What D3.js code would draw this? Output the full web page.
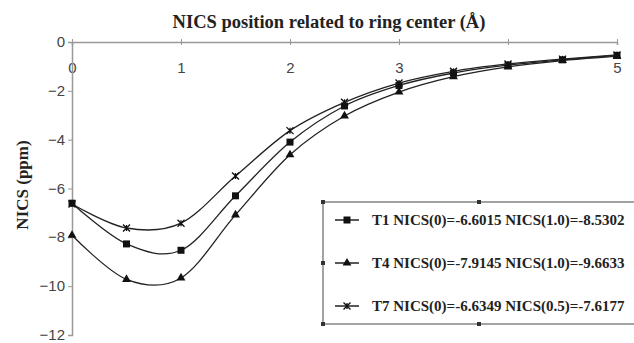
<!DOCTYPE html>
<html>
<head>
<meta charset="utf-8">
<script src="https://cdn.jsdelivr.net/npm/d3@7"></script>
<style>
  body { margin: 0; background: #fff; overflow: hidden; }
</style>
</head>
<body>
<div id="chart"></div>
<script>
// distances from ring center (Å)
var positions = [0, 0.5, 1, 1.5, 2, 2.5, 3, 3.5, 4, 4.5, 5];
var t1 = [-6.6015, -8.27, -8.5302, -6.3, -4.1, -2.62, -1.78, -1.27, -0.95, -0.73, -0.55];
var t4 = [-7.9145, -9.72, -9.6633, -7.08, -4.62, -3.03, -2.05, -1.42, -1.02, -0.76, -0.58];
var t7 = [-6.6349, -7.6177, -7.42, -5.49, -3.63, -2.47, -1.68, -1.2, -0.9, -0.7, -0.53];
var xTicks = [0, 1, 2, 3, 4, 5];
var xTickLabels = ['0', '1', '2', '3', '', '5'];
var yTicks = [0, -2, -4, -6, -8, -10, -12];
var legendLabels = [
  'T1 NICS(0)=-6.6015 NICS(1.0)=-8.5302',
  'T4 NICS(0)=-7.9145 NICS(1.0)=-9.6633',
  'T7 NICS(0)=-6.6349 NICS(0.5)=-7.6177'
];

var width = 634, height = 343;
var svg = d3.select('#chart').append('svg')
    .attr('width', width)
    .attr('height', height);

var x = d3.scaleLinear().domain([0, 5]).range([72, 617]);
var y = d3.scaleLinear().domain([0, -12]).range([42, 335]);

// title
svg.append('text')
    .attr('x', 329)
    .attr('y', 28)
    .attr('text-anchor', 'middle')
    .style('font', 'bold 18.5px "Liberation Serif", serif')
    .attr('fill', '#222')
    .text('NICS position related to ring center (Å)');

// y axis title
svg.append('text')
    .attr('transform', 'translate(28,185) rotate(-90)')
    .attr('text-anchor', 'middle')
    .style('font', 'bold 17px "Liberation Serif", serif')
    .attr('fill', '#222')
    .text('NICS (ppm)');

// x axis along the top (value 0)
var xAxis = svg.append('g')
    .attr('transform', 'translate(0,' + y(0) + ')')
    .call(d3.axisBottom(x).tickValues(xTicks).tickSize(3).tickFormat(function(d, i) { return xTickLabels[i]; }));
xAxis.select('.domain').attr('stroke', '#999').attr('stroke-width', 1.5);
xAxis.selectAll('line').attr('stroke', '#999').attr('y1', -3);
xAxis.selectAll('text')
    .attr('dy', 0)
    .attr('y', 31)
    .style('font', '15px "Liberation Sans", sans-serif')
    .attr('fill', '#444');

var yAxis = svg.append('g')
    .attr('transform', 'translate(' + x(0) + ',0)')
    .call(d3.axisLeft(y).tickValues(yTicks).tickSize(4).tickFormat(d3.format('d')));
yAxis.select('.domain').attr('stroke', '#999').attr('stroke-width', 1.5);
yAxis.selectAll('line').attr('stroke', '#999');
yAxis.selectAll('text')
    .attr('x', -7)
    .attr('dy', '0.3em')
    .style('font', '15px "Liberation Sans", sans-serif')
    .attr('fill', '#444');

var series = [
  { values: t1, marker: 'square' },
  { values: t4, marker: 'triangle' },
  { values: t7, marker: 'cross' }
];

var line = d3.line()
    .x(function(d, i) { return x(positions[i]); })
    .y(function(d) { return y(d); })
    .curve(d3.curveCardinal.tension(0));

function drawMarker(g, type) {
  if (type === 'square') {
    g.append('rect').attr('x', -3.5).attr('y', -3.5).attr('width', 7).attr('height', 7).attr('fill', '#111');
  } else if (type === 'triangle') {
    g.append('path').attr('d', d3.symbol().type(d3.symbolTriangle).size(34)()).attr('fill', '#111');
  } else {
    g.append('path').attr('d', 'M-3.5,-3.5L3.5,3.5M-3.5,3.5L3.5,-3.5M0,-3L0,3')
        .attr('stroke', '#111').attr('stroke-width', 1.3).attr('fill', 'none');
  }
}

series.forEach(function(s) {
  svg.append('path')
      .datum(s.values)
      .attr('d', line)
      .attr('fill', 'none')
      .attr('stroke', '#222')
      .attr('stroke-width', 1.3);
  s.values.forEach(function(v, i) {
    var g = svg.append('g').attr('transform', 'translate(' + x(positions[i]) + ',' + y(v) + ')');
    drawMarker(g, s.marker);
  });
});

// legend box (selected, with handles)
var legend = svg.append('g');
legend.append('rect')
    .attr('x', 323).attr('y', 202)
    .attr('width', 330).attr('height', 122)
    .attr('fill', '#fff')
    .attr('stroke', '#666')
    .attr('stroke-width', 1.2);

[[323, 202], [479, 202], [323, 263], [323, 324], [479, 324]].forEach(function(p) {
  legend.append('rect')
      .attr('x', p[0] - 2).attr('y', p[1] - 2)
      .attr('width', 4).attr('height', 4)
      .attr('fill', '#333');
});

legendLabels.forEach(function(label, i) {
  var ly = 220 + i * 43;
  legend.append('line')
      .attr('x1', 335).attr('x2', 359)
      .attr('y1', ly).attr('y2', ly)
      .attr('stroke', '#222').attr('stroke-width', 1.5);
  var g = legend.append('g').attr('transform', 'translate(347,' + ly + ')');
  drawMarker(g, series[i].marker);
  legend.append('text')
      .attr('x', 372)
      .attr('y', ly + 5)
      .style('font', 'bold 15px "Liberation Serif", serif')
      .attr('fill', '#222')
      .text(label);
});
</script>
</body>
</html>
